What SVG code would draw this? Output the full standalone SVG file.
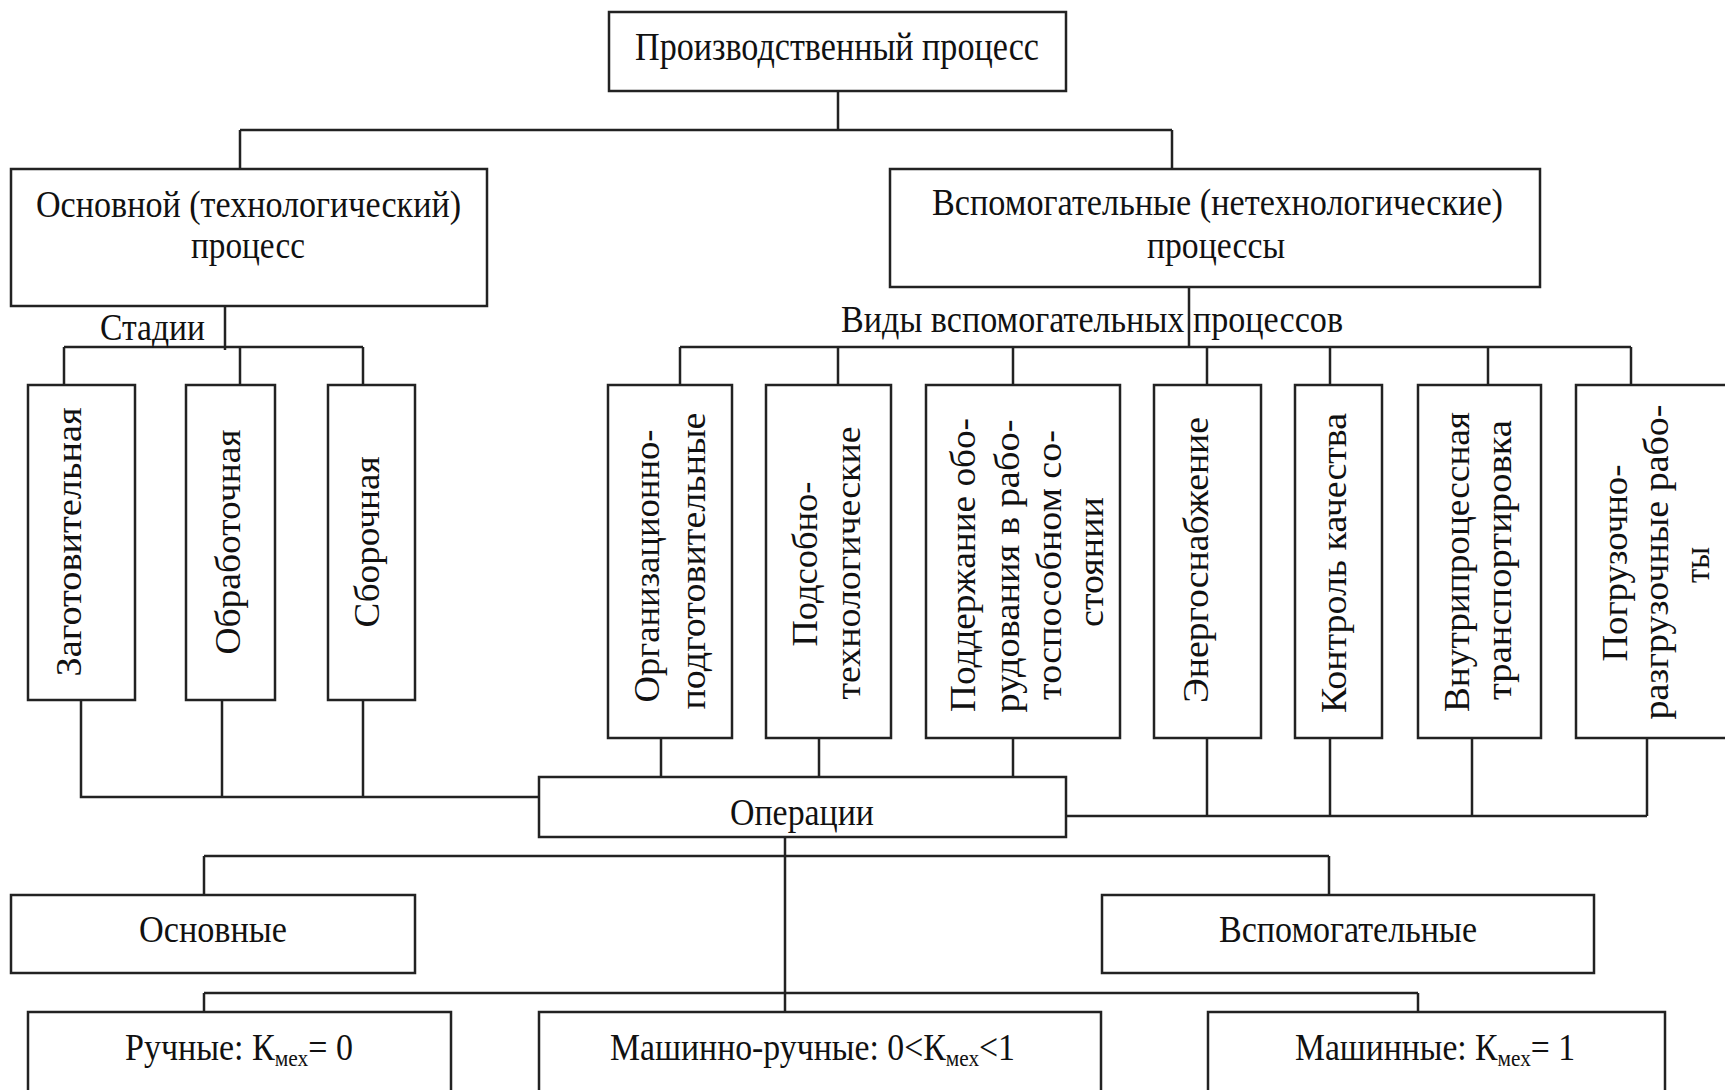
<svg xmlns="http://www.w3.org/2000/svg" width="1725" height="1090" viewBox="0 0 1725 1090">
<style>
.box{fill:#fff;stroke:#222;stroke-width:2.5}
.ln{fill:none;stroke:#222;stroke-width:2.5}
.t{font-family:"Liberation Serif","Times New Roman",serif;font-size:38px;fill:#111}
.v{font-family:"Liberation Serif","Times New Roman",serif;font-size:36px;fill:#111}
.sub{font-size:24px}
</style>
<rect width="1725" height="1090" fill="#fff"/>
<g id="connectors" class="ln">
<path d="M838 91V130M240 130H1172M240 130V169M1172 130V169"/>
<path d="M225 306V350M64 347H363M64 347V385M240 347V385M363 347V385"/>
<path d="M1189 287V347M680 347H1631M680 347V385M838 347V385M1013 347V385M1207 347V385M1330 347V385M1488 347V385M1631 347V385"/>
<path d="M81 700V797H539M222 700V797M363 700V797"/>
<path d="M661 738V777M819 738V777M1013 738V777"/>
<path d="M1066 816H1647M1207 738V816M1330 738V816M1472 738V816M1647 738V816"/>
<path d="M785 837V1012M204 856H1329M204 856V895M1329 856V895"/>
<path d="M204 993H1418M204 993V1012M1418 993V1012"/>
</g>
<g id="n-top"><rect class="box" x="609" y="12" width="457" height="79"/>
<text class="t" style="font-size:40px" x="635" y="60" textLength="404" lengthAdjust="spacingAndGlyphs">Производственный процесс</text></g>
<g id="n-main"><rect class="box" x="11" y="169" width="476" height="137"/>
<text class="t" x="36" y="217" textLength="425" lengthAdjust="spacingAndGlyphs">Основной (технологический)</text>
<text class="t" x="191" y="258" textLength="114" lengthAdjust="spacingAndGlyphs">процесс</text></g>
<g id="n-aux"><rect class="box" x="890" y="169" width="650" height="118"/>
<text class="t" x="932" y="215" textLength="571" lengthAdjust="spacingAndGlyphs">Вспомогательные (нетехнологические)</text>
<text class="t" x="1147" y="258" textLength="138" lengthAdjust="spacingAndGlyphs">процессы</text></g>
<g id="l-stadii"><text class="t" x="100" y="340" textLength="105" lengthAdjust="spacingAndGlyphs">Стадии</text></g>
<g id="l-vidy"><text class="t" x="841" y="332" textLength="502" lengthAdjust="spacingAndGlyphs">Виды вспомогательных процессов</text></g>
<g id="n-s1"><rect class="box" x="28" y="385" width="107" height="315"/>
<text class="v" transform="translate(81 542) rotate(-90)" x="-134.5" y="0" textLength="269" lengthAdjust="spacingAndGlyphs">Заготовительная</text></g>
<g id="n-s2"><rect class="box" x="186" y="385" width="89" height="315"/>
<text class="v" transform="translate(240 542) rotate(-90)" x="-112.5" y="0" textLength="225" lengthAdjust="spacingAndGlyphs">Обработочная</text></g>
<g id="n-s3"><rect class="box" x="328" y="385" width="87" height="315"/>
<text class="v" transform="translate(379 542) rotate(-90)" x="-85.5" y="0" textLength="171" lengthAdjust="spacingAndGlyphs">Сборочная</text></g>
<g id="n-a1"><rect class="box" x="608" y="385" width="124" height="353"/>
<text class="v" transform="translate(659 566) rotate(-90)" x="-136.5" y="0" textLength="273" lengthAdjust="spacingAndGlyphs">Организационно-</text>
<text class="v" transform="translate(705 561) rotate(-90)" x="-148.5" y="0" textLength="297" lengthAdjust="spacingAndGlyphs">подготовительные</text></g>
<g id="n-a2"><rect class="box" x="766" y="385" width="125" height="353"/>
<text class="v" transform="translate(817 564) rotate(-90)" x="-82.5" y="0" textLength="165" lengthAdjust="spacingAndGlyphs">Подсобно-</text>
<text class="v" transform="translate(860 563) rotate(-90)" x="-136.5" y="0" textLength="273" lengthAdjust="spacingAndGlyphs">технологические</text></g>
<g id="n-a3"><rect class="box" x="926" y="385" width="194" height="353"/>
<text class="v" transform="translate(975 565) rotate(-90)" x="-147" y="0" textLength="294" lengthAdjust="spacingAndGlyphs">Поддержание обо-</text>
<text class="v" transform="translate(1019 566) rotate(-90)" x="-146.5" y="0" textLength="293" lengthAdjust="spacingAndGlyphs">рудования в рабо-</text>
<text class="v" transform="translate(1061 565) rotate(-90)" x="-135" y="0" textLength="270" lengthAdjust="spacingAndGlyphs">тоспособном со-</text>
<text class="v" transform="translate(1103 562) rotate(-90)" x="-65" y="0" textLength="130" lengthAdjust="spacingAndGlyphs">стоянии</text></g>
<g id="n-a4"><rect class="box" x="1154" y="385" width="107" height="353"/>
<text class="v" transform="translate(1208 560) rotate(-90)" x="-143" y="0" textLength="286" lengthAdjust="spacingAndGlyphs">Энергоснабжение</text></g>
<g id="n-a5"><rect class="box" x="1295" y="385" width="87" height="353"/>
<text class="v" transform="translate(1346 563) rotate(-90)" x="-150" y="0" textLength="300" lengthAdjust="spacingAndGlyphs">Контроль качества</text></g>
<g id="n-a6"><rect class="box" x="1418" y="385" width="123" height="353"/>
<text class="v" transform="translate(1469 562) rotate(-90)" x="-150" y="0" textLength="300" lengthAdjust="spacingAndGlyphs">Внутрипроцессная</text>
<text class="v" transform="translate(1511 560) rotate(-90)" x="-140" y="0" textLength="280" lengthAdjust="spacingAndGlyphs">транспортировка</text></g>
<g id="n-a7"><rect class="box" x="1576" y="385" width="170" height="353"/>
<text class="v" transform="translate(1627 563) rotate(-90)" x="-98.5" y="0" textLength="197" lengthAdjust="spacingAndGlyphs">Погрузочно-</text>
<text class="v" transform="translate(1668 562) rotate(-90)" x="-157.5" y="0" textLength="315" lengthAdjust="spacingAndGlyphs">разгрузочные рабо-</text>
<text class="v" transform="translate(1709 565) rotate(-90)" x="-18" y="0" textLength="36" lengthAdjust="spacingAndGlyphs">ты</text></g>
<g id="n-ops"><rect class="box" x="539" y="777" width="527" height="60"/>
<text class="t" x="730" y="825" textLength="144" lengthAdjust="spacingAndGlyphs">Операции</text></g>
<g id="n-osn"><rect class="box" x="11" y="895" width="404" height="78"/>
<text class="t" x="139" y="942" textLength="148" lengthAdjust="spacingAndGlyphs">Основные</text></g>
<g id="n-vsp"><rect class="box" x="1102" y="895" width="492" height="78"/>
<text class="t" x="1219" y="942" textLength="258" lengthAdjust="spacingAndGlyphs">Вспомогательные</text></g>
<g id="n-r1"><rect class="box" x="28" y="1012" width="423" height="100"/>
<text class="t" x="125" y="1060" textLength="228" lengthAdjust="spacingAndGlyphs">Ручные: К<tspan class="sub" dy="6">мех</tspan><tspan dy="-6">= 0</tspan></text></g>
<g id="n-r2"><rect class="box" x="539" y="1012" width="562" height="100"/>
<text class="t" x="610" y="1060" textLength="405" lengthAdjust="spacingAndGlyphs">Машинно-ручные: 0&lt;К<tspan class="sub" dy="6">мех</tspan><tspan dy="-6">&lt;1</tspan></text></g>
<g id="n-r3"><rect class="box" x="1208" y="1012" width="457" height="100"/>
<text class="t" x="1295" y="1060" textLength="280" lengthAdjust="spacingAndGlyphs">Машинные: К<tspan class="sub" dy="6">мех</tspan><tspan dy="-6">= 1</tspan></text></g>
</svg>
